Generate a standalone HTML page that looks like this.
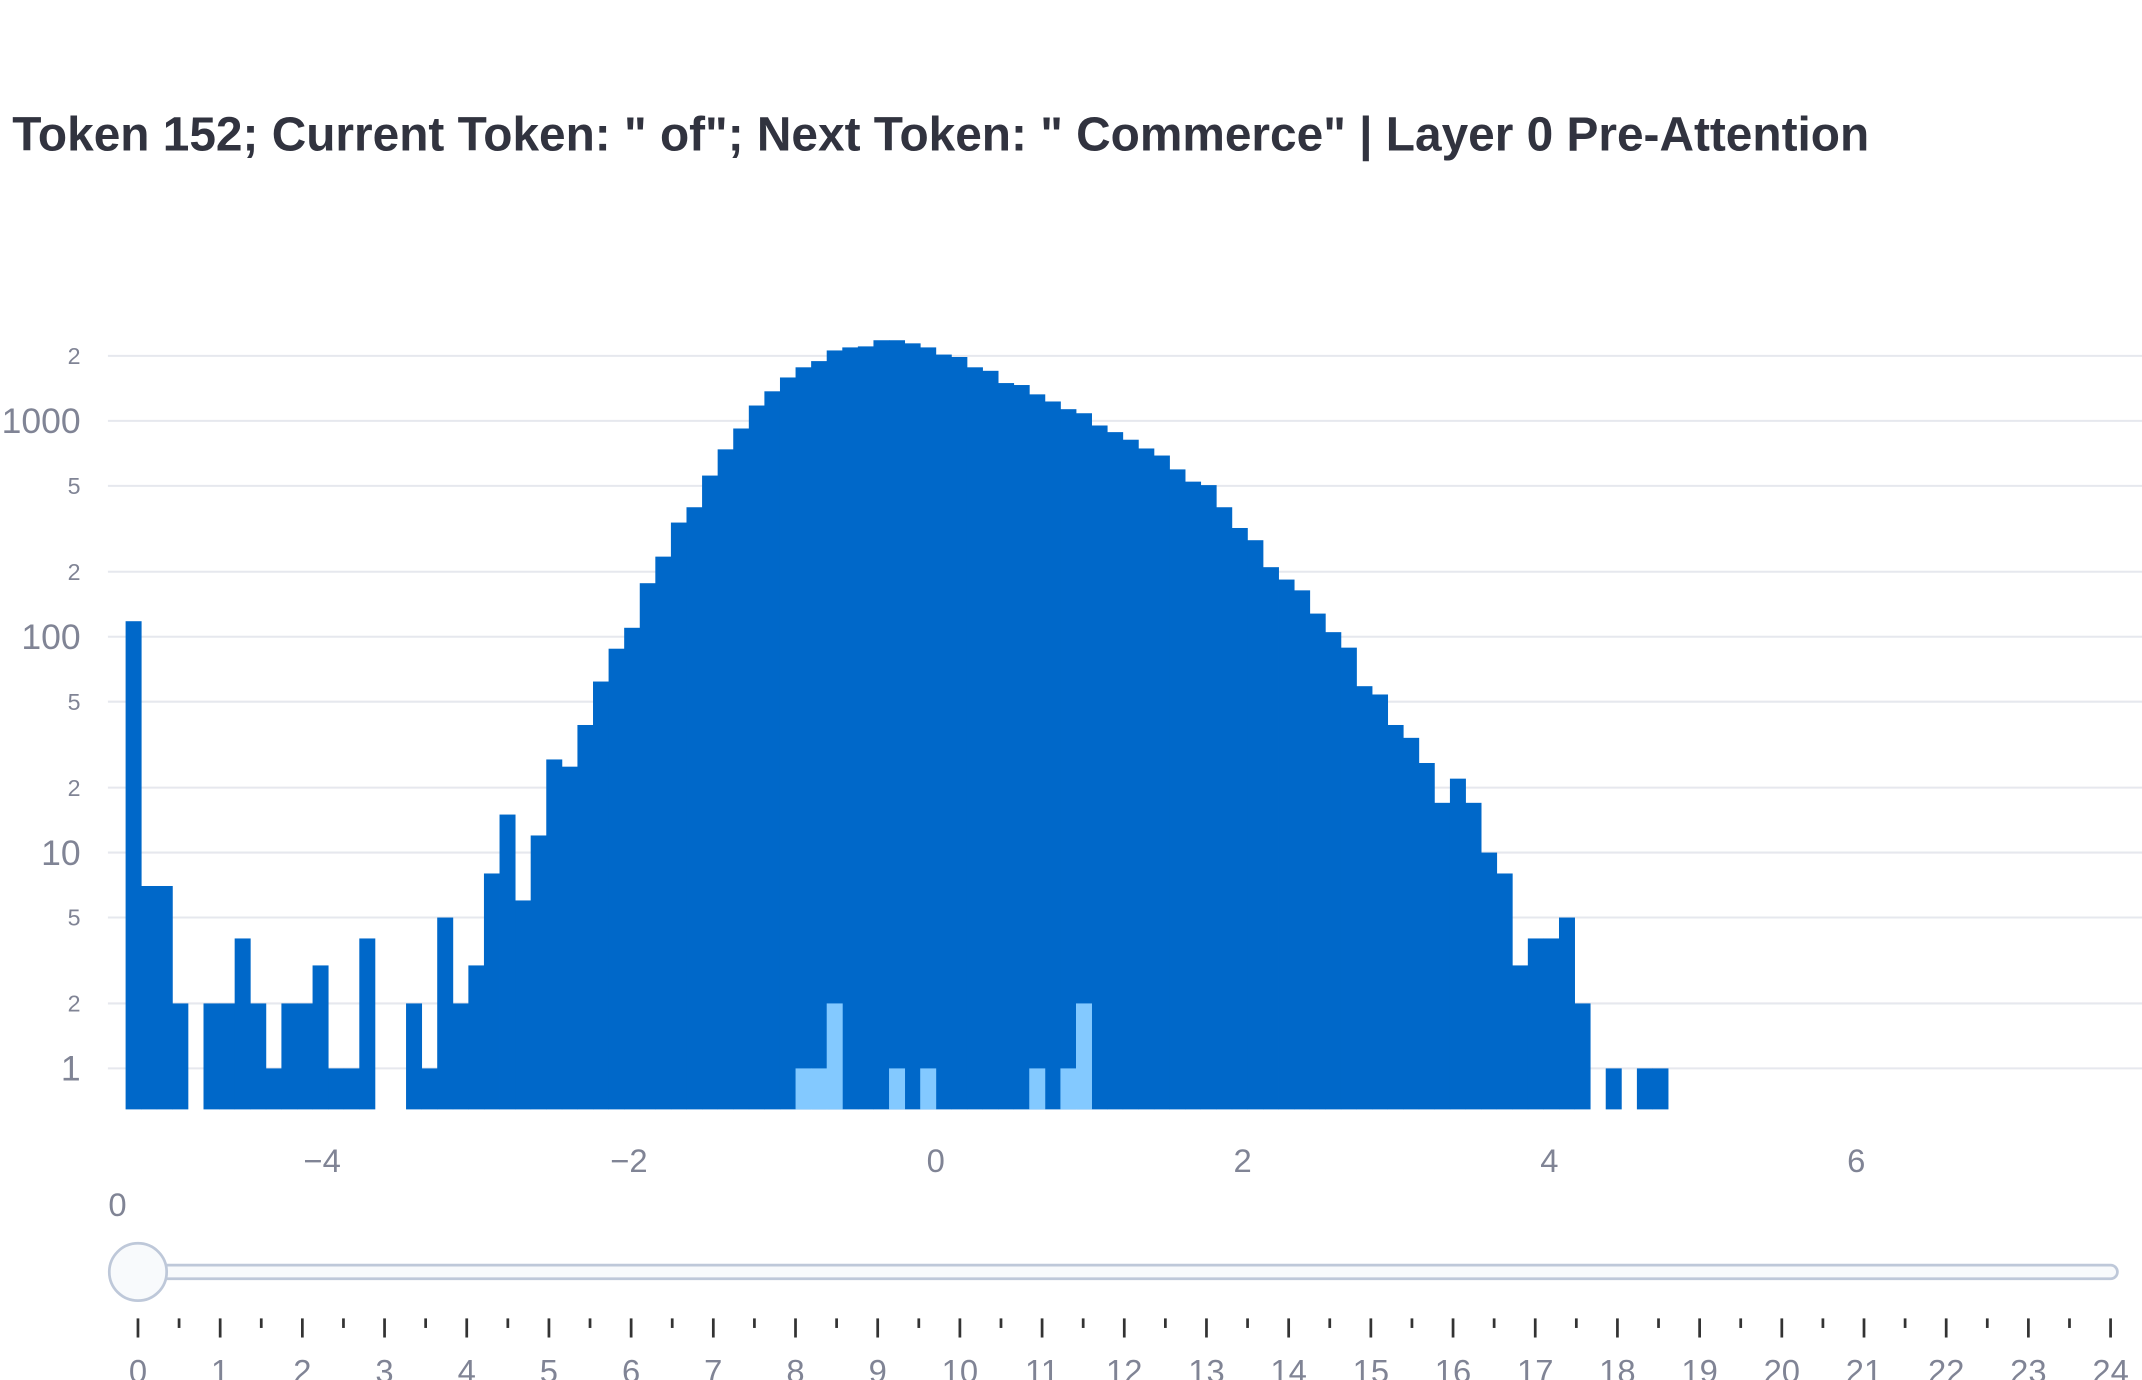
<!DOCTYPE html>
<html><head><meta charset="utf-8"><style>
html,body{margin:0;padding:0;background:#fff;}
svg{display:block;font-family:"Liberation Sans",Arial,sans-serif;}
</style></head><body>
<svg id="chart" width="2142" height="1380" viewBox="0 0 1568 1010" xmlns="http://www.w3.org/2000/svg">
<text x="9" y="110" font-size="35" font-weight="bold" fill="#31333f">Token 152; Current Token: " of"; Next Token: " Commerce" | Layer 0 Pre-Attention</text>
<g id="grid"></g>
<g id="ylabels"></g>
<g id="bars"></g>
<g id="bars2"></g>
<g id="xlabels"></g>
<g id="slider"></g>
</svg>
<script>
const counts = [118,7,7,2,0,2,2,4,2,1,2,2,3,1,1,4,0,0,2,1,5,2,3,8,15,6,12,27,25,39,62,88,110,177,235,338,398,558,738,922,1178,1371,1589,1771,1892,2120,2190,2214,2364,2364,2287,2190,2029,1977,1771,1706,1497,1466,1327,1230,1133,1085,952,887,818,745,691,596,523,504,398,319,280,210,184,164,128,105,89,59,54,39,34,26,17,22,17,10,8,3,4,4,5,2,0,1,0,1,1];
const highlightCounts = {43:1,44:1,45:2,49:1,51:1,58:1,60:1,61:2};
const binStart = -5.281;
const binWidth = 0.10156;
const yTicks = [1,2,5,10,20,50,100,200,500,1000,2000];
const yTickLabels = ["1","2","5","10","2","5","100","2","5","1000","2"];
const xTicks = [-4,-2,0,2,4,6];
const xTickLabels = ["−4","−2","0","2","4","6"];
const sliderSteps = Array.from({length:25},(_,i)=>i);

const NS="http://www.w3.org/2000/svg";
const X0=685, XS=112.3, Y1=782, DEC=158, BASE=812, GL=79, GR=1568;
const xs=v=>X0+v*XS;
const ys=v=>Y1-Math.log10(v)*DEC;
function mk(tag,attrs,parent){const e=document.createElementNS(NS,tag);for(const k in attrs)e.setAttribute(k,attrs[k]);parent.appendChild(e);return e;}

const grid=document.getElementById('grid'), yl=document.getElementById('ylabels');
yTicks.forEach((t,i)=>{
  const y=ys(t);
  const l=mk('line',{x1:GL,x2:GR,y1:y,y2:y,stroke:'#e6e8ee','stroke-width':1.5},grid);
  
  
  const major=/^10*$/.test(yTickLabels[i]);
  const tx=mk('text',{x:59,y:y+(major?9:6),'text-anchor':'end','font-size':major?26:17,fill:'#808495'},yl);
  tx.textContent=yTickLabels[i];
  
  
});

const bars=document.getElementById('bars'), bars2=document.getElementById('bars2');
counts.forEach((c,i)=>{
  if(c<=0)return;
  const x1=xs(binStart+i*binWidth), x2=xs(binStart+(i+1)*binWidth), y=ys(c);
  const r=mk('rect',{x:x1,y:y,width:x2-x1+0.3,height:BASE-y,fill:'#0068c9'},bars);
  
  
});
Object.keys(highlightCounts).forEach(k=>{
  const i=+k, c=highlightCounts[k];
  const x1=xs(binStart+i*binWidth), x2=xs(binStart+(i+1)*binWidth), y=ys(c);
  const r=mk('rect',{x:x1,y:y,width:x2-x1+0.3,height:BASE-y,fill:'#83c9ff'},bars2);
  
  
});

const xl=document.getElementById('xlabels');
xTicks.forEach((t,i)=>{
  const tx=mk('text',{x:xs(t),y:858,'text-anchor':'middle','font-size':24,fill:'#808495'},xl);
  tx.textContent=xTickLabels[i];
  
  
});

const sl=document.getElementById('slider');
const cur=mk('text',{x:86,y:890,'text-anchor':'middle','font-size':24,fill:'#808495'},sl);
cur.textContent='0';


const track=mk('rect',{x:100,y:926,width:1450,height:10,rx:5,fill:'#f8fafc',stroke:'#bec8d9','stroke-width':2},sl);


const SX0=101, SXS=(1545-101)/24;
sliderSteps.forEach((s,i)=>{
  const x=SX0+s*SXS;
  const t=mk('line',{x1:x,x2:x,y1:965,y2:979,stroke:'#333','stroke-width':2},sl);
  
  
  if(i<24){
    const m=mk('line',{x1:x+SXS/2,x2:x+SXS/2,y1:965,y2:972,stroke:'#333','stroke-width':2},sl);
    
    
  }
  const lb=mk('text',{x:x,y:1012,'text-anchor':'middle','font-size':24,fill:'#808495'},sl);
  lb.textContent=String(s);
  
  
});
const h=mk('circle',{cx:101,cy:931,r:21,fill:'#f8fafc',stroke:'#bec8d9','stroke-width':2},sl);


</script>
</body></html>
